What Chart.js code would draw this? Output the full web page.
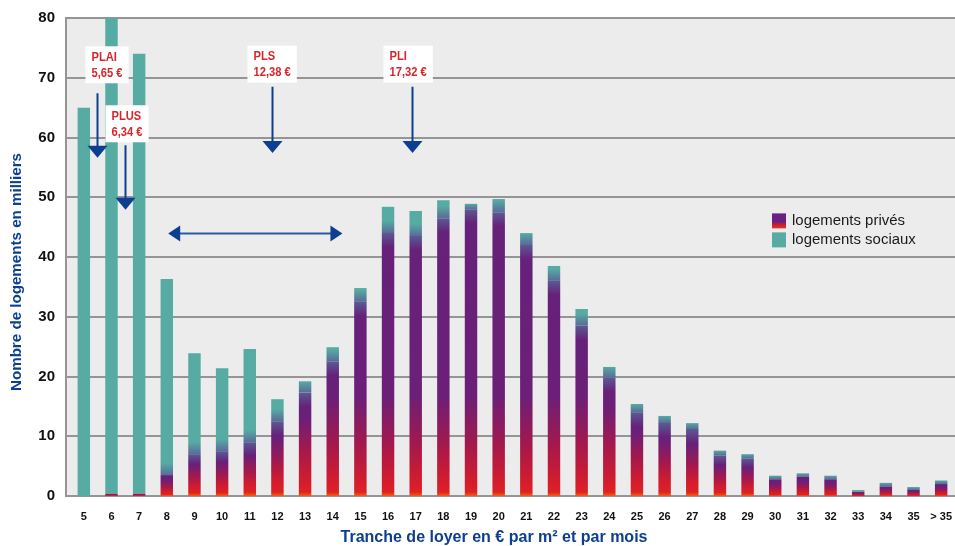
<!DOCTYPE html>
<html><head><meta charset="utf-8">
<script src="https://cdn.jsdelivr.net/npm/chart.js@4.4.1/dist/chart.umd.min.js"></script>
<style>html,body{margin:0;padding:0;background:#fff;}#wrap{width:955px;height:546px;position:relative;}</style>
</head><body><div id="wrap"><canvas id="c" width="955" height="546"></canvas></div>
<script>
// ---- data ----
const categories = ['5','6','7','8','9','10','11','12','13','14','15','16','17','18','19','20','21','22','23','24','25','26','27','28','29','30','31','32','33','34','35','> 35'];
const privateValues = [0,0.4,0.4,3.5,7,7.5,9,12.5,17.3,22.5,32.5,44,43.5,46.5,48,47.5,42,36,28.5,19.8,14,12.2,11.2,6.8,6.3,2.8,3.2,2.8,0.7,1.6,1,2];
const socialValues  = [65,79.6,73.6,32.8,16.9,13.9,15.6,3.7,1.9,2.4,2.3,4.4,4.2,3,0.9,2.2,2,2.5,2.8,1.8,1.4,1.2,1,0.8,0.7,0.6,0.6,0.6,0.3,0.6,0.5,0.6];
const yTicks = [0,10,20,30,40,50,60,70,80];
const seriesNames = ['logements privés','logements sociaux'];
const yTitle = 'Nombre de logements en milliers';
const xTitle = 'Tranche de loyer en € par m² et par mois';
const markerNames = ['PLAI','PLUS','PLS','PLI'];
const markerAmounts = ['5,65 €','6,34 €','12,38 €','17,32 €'];
const markerIndex = [0.47,1.48,6.8,11.85];      // position on the category axis
const markerFrom = [67.4,58.7,68.5,68.5];        // arrow start (value axis)
const markerTip = [56.6,47.9,57.4,57.4];         // arrow tip (value axis)
const rangeFrom = 3.05, rangeTo = 9.35, rangeLevel = 44;

// ---- styles ----
const FONT = '"Liberation Sans Narrow","Arial Narrow","Liberation Sans",Arial,sans-serif';
const TEAL = '#56aba2';
const BLUE = '#0c3f8f';
const RED = '#d7262b';

function privateColor(ctx){
  const chart = ctx.chart;
  if(ctx.type !== 'data' || !chart.chartArea || !chart.scales.y) return '#6a1f78';
  const ys = chart.scales.y;
  const v = privateValues[ctx.dataIndex];
  const y0 = ys.getPixelForValue(0), y1 = ys.getPixelForValue(v);
  const h = y0 - y1;
  if(h < 1) return '#c81e3a';
  const g = chart.ctx.createLinearGradient(0,y0,0,y1);
  const f = px => Math.min(1, px / h);
  g.addColorStop(0,'#ef5e16');
  g.addColorStop(Math.min(f(4),0.08),'#de2124');
  g.addColorStop(Math.min(f(14),0.2),'#d41d2c');
  g.addColorStop(Math.min(f(50),0.45),'#a5184c');
  g.addColorStop(Math.min(f(100),0.75),'#6c1f78');
  if(h > 30 && socialValues[ctx.dataIndex] > 0.5){
    g.addColorStop(Math.max(0.76,1 - 14/h),'#66217a');
    g.addColorStop(1,'#5b5a92');
  } else {
    g.addColorStop(1,'#66217a');
  }
  return g;
}
function socialColor(ctx){
  const chart = ctx.chart;
  if(ctx.type !== 'data' || !chart.chartArea || !chart.scales.y) return TEAL;
  const i = ctx.dataIndex;
  if(privateValues[i] < 1) return TEAL;
  const ys = chart.scales.y;
  const y0 = ys.getPixelForValue(privateValues[i]), y1 = ys.getPixelForValue(privateValues[i]+socialValues[i]);
  const h = y0 - y1;
  if(h < 1) return TEAL;
  const g = chart.ctx.createLinearGradient(0,y0,0,y1);
  g.addColorStop(0,'#5a6a98');
  g.addColorStop(Math.min(1,12/h),TEAL);
  g.addColorStop(1,TEAL);
  return g;
}

function narrowText(c, txt, x, y, sx){
  c.save(); c.translate(x, y); c.scale(sx, 1); c.fillText(txt, 0, 0); c.restore();
}

const decor = {
  id:'decor',
  beforeDraw(chart){
    const c = chart.ctx, a = chart.chartArea, ys = chart.scales.y;
    c.save();
    c.fillStyle = '#ececec';
    c.fillRect(66, a.top, 955-66, a.bottom - a.top);
    c.strokeStyle = '#959595'; c.lineWidth = 2;
    yTicks.forEach(t => {
      const y = Math.round(ys.getPixelForValue(t));
      c.beginPath(); c.moveTo(66,y); c.lineTo(955,y); c.stroke();
    });
    c.beginPath(); c.moveTo(66,a.top-1); c.lineTo(66,a.bottom+1); c.stroke();
    c.restore();
  },
  afterDatasetsDraw(chart){
    const c = chart.ctx, xs = chart.scales.x, ys = chart.scales.y, a = chart.chartArea;
    c.save();
    // markers
    const boxDx = [-12,-20,-25,-29];
    const boxGap = [10,3,4,4];
    const sx = 0.86;
    markerNames.forEach((n,i) => {
      const x = Math.round(xs.getPixelForValue(markerIndex[i])) + 0.5;
      const yFrom = ys.getPixelForValue(markerFrom[i]);
      const yTip = ys.getPixelForValue(markerTip[i]);
      c.font = 'bold 13px ' + FONT;
      const w = Math.max(c.measureText(n).width, c.measureText(markerAmounts[i]).width) * sx + 12;
      const bh = 37;
      const bx = x + boxDx[i], by = yFrom - boxGap[i] - bh;
      c.fillStyle = '#ffffff';
      c.fillRect(bx, by, w, bh);
      c.fillStyle = RED; c.textBaseline = 'middle'; c.textAlign = 'left';
      narrowText(c, n, bx + 6, by + 11, sx);
      narrowText(c, markerAmounts[i], bx + 6, by + 27, sx);
      c.strokeStyle = BLUE; c.lineWidth = 2;
      c.beginPath(); c.moveTo(x, yFrom); c.lineTo(x, yTip - 10); c.stroke();
      c.fillStyle = BLUE;
      c.beginPath(); c.moveTo(x - 10, yTip - 12); c.lineTo(x + 10, yTip - 12); c.lineTo(x, yTip); c.closePath(); c.fill();
    });
    // range arrow
    const rx0 = xs.getPixelForValue(rangeFrom), rx1 = xs.getPixelForValue(rangeTo);
    const ry = Math.round(ys.getPixelForValue(rangeLevel)) + 0.5;
    c.strokeStyle = '#2a5aa8'; c.lineWidth = 2;
    c.beginPath(); c.moveTo(rx0 + 8, ry); c.lineTo(rx1 - 8, ry); c.stroke();
    c.fillStyle = BLUE;
    c.beginPath(); c.moveTo(rx0, ry); c.lineTo(rx0 + 12, ry - 8); c.lineTo(rx0 + 12, ry + 8); c.closePath(); c.fill();
    c.beginPath(); c.moveTo(rx1, ry); c.lineTo(rx1 - 12, ry - 8); c.lineTo(rx1 - 12, ry + 8); c.closePath(); c.fill();
    // legend
    const lx = 772, ly = ys.getPixelForValue(47.3);
    const sg = c.createLinearGradient(0, ly, 0, ly + 15);
    sg.addColorStop(0,'#6a2182'); sg.addColorStop(0.55,'#6a2182'); sg.addColorStop(0.8,'#d2202c'); sg.addColorStop(1,'#e03a1e');
    c.fillStyle = sg; c.fillRect(lx, ly, 14, 15);
    c.fillStyle = TEAL; c.fillRect(lx, ly + 19, 14, 15);
    c.fillStyle = '#1a1a1a'; c.font = '14px ' + FONT; c.textBaseline = 'middle'; c.textAlign = 'left';
    const lw = c.measureText(seriesNames[0]).width;
    const ls = 113 / lw;
    narrowText(c, seriesNames[0], lx + 20, ly + 8, ls);
    narrowText(c, seriesNames[1], lx + 20, ly + 27, ls);
    c.restore();
  },
  afterDraw(chart){
    const c = chart.ctx;
    c.save();
    c.fillStyle = BLUE; c.textAlign = 'center'; c.textBaseline = 'middle';
    // y title
    c.font = 'bold 14px ' + FONT;
    let w = c.measureText(yTitle).width;
    c.translate(17, 272); c.rotate(-Math.PI/2); c.scale(238 / w, 1);
    c.fillText(yTitle, 0, 0);
    c.restore(); c.save();
    c.fillStyle = BLUE; c.textAlign = 'center'; c.textBaseline = 'middle';
    c.font = 'bold 16px ' + FONT;
    w = c.measureText(xTitle).width;
    c.translate(494, 538); c.scale(307 / w, 1);
    c.fillText(xTitle, 0, 0);
    c.restore();
  }
};

new Chart(document.getElementById('c'), {
  type:'bar',
  data:{
    labels: categories,
    datasets:[
      {label:seriesNames[0], data:privateValues, backgroundColor:privateColor, borderWidth:0, barPercentage:0.45, categoryPercentage:1},
      {label:seriesNames[1], data:socialValues, backgroundColor:socialColor, borderWidth:0, barPercentage:0.45, categoryPercentage:1}
    ]
  },
  options:{
    responsive:false, animation:false, devicePixelRatio:1,
    layout:{padding:{top:18,right:0,left:0,bottom:0}},
    plugins:{legend:{display:false}, tooltip:{enabled:false}},
    scales:{
      x:{stacked:true, grid:{display:false, drawTicks:false}, border:{display:false},
         ticks:{color:'#111', font:{family:FONT, size:11, weight:'bold'}, padding:14, maxRotation:0, autoSkip:false},
         afterFit(s){ s.height = 50; s.paddingRight = 0; s.paddingLeft = 0; }},
      y:{stacked:true, min:0, max:80, grid:{display:false, drawTicks:false}, border:{display:false},
         ticks:{stepSize:10, color:'#111', font:{family:FONT, size:15, weight:'bold'}, padding:15,
                callback:(v)=> yTicks.includes(v) ? String(v) : ''},
         afterFit(s){ s.width = 70; s.paddingTop = 0; s.paddingBottom = 0; }}
    }
  },
  plugins:[decor]
});
</script></body></html>
